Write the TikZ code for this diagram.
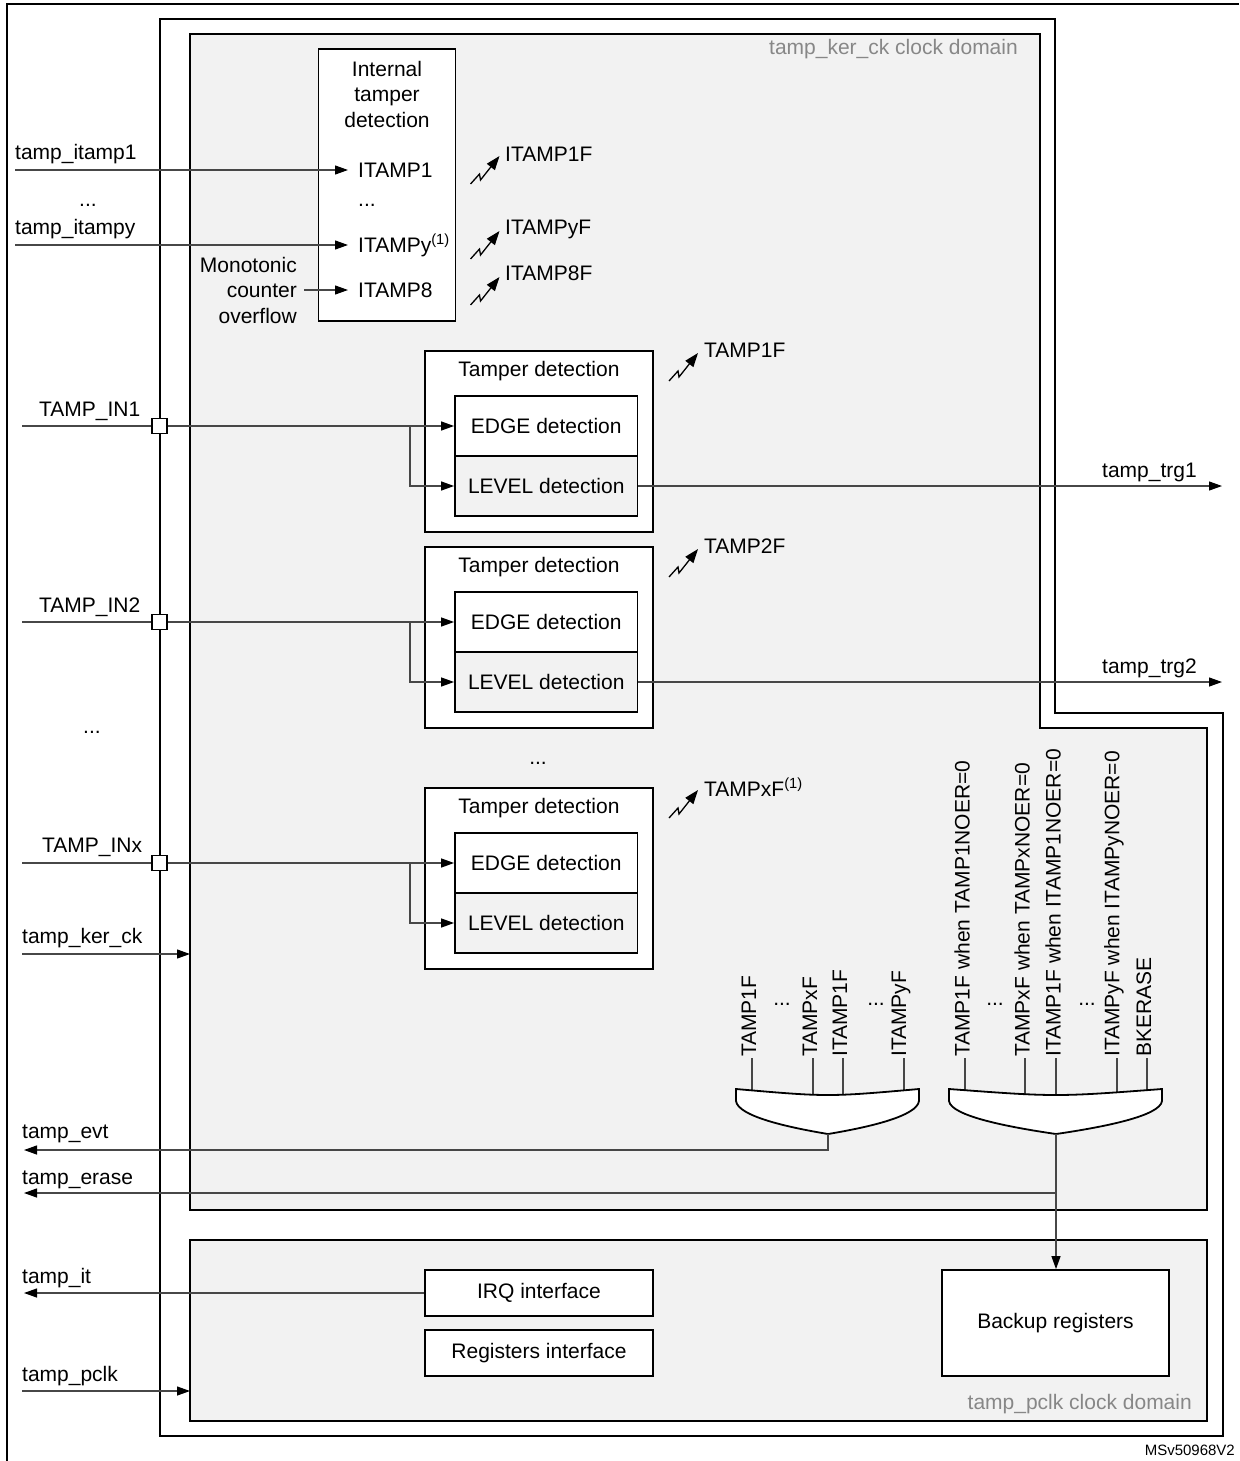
\documentclass[tikz,border=0pt]{standalone}
\usepackage{fontspec}
\setmainfont{Liberation Sans}
\usetikzlibrary{arrows.meta}
\definecolor{bggray}{HTML}{F2F2F2}
\definecolor{labgray}{HTML}{878787}
\newcommand\myfs{\fontsize{21pt}{25.5pt}\selectfont}
\begin{document}
\begin{tikzpicture}[x=1pt,y=-1pt,
  every node/.style={font=\myfs, inner sep=0pt},
  domframe/.style={draw=black, line width=2pt},
  blk/.style={draw=black, line width=1.8pt, fill=white, inner sep=0pt},
  sig/.style={draw=black!72, line width=1.2pt},
  arr/.style={sig, -{Triangle[length=13pt,width=9pt,color=black]}},
  pad/.style={draw=black, line width=1.5pt, fill=white, minimum size=15pt, inner sep=0pt},
  gate/.style={draw=black, line width=1.8pt, fill=white},
  graylbl/.style={text=labgray},
  bolt/.pic={\draw[line width=1.3pt, black, -{Triangle[length=14pt,width=10pt]}] (0,0) -- (9,-10) -- (10,-4) -- (29,-28);},
]
\useasboundingbox (0,0) rectangle (1239,1461);
% outer frame (cropped)
\draw[line width=2.5pt] (7,1461) -- (7,4) -- (1239,4);
% middle frame
\draw[domframe] (159.5,19) -- (1055,19) -- (1055,712.5) -- (1223,712.5) -- (1223,1436) -- (159.5,1436) -- cycle;
% tamp_ker_ck domain
\draw[domframe, fill=bggray] (190,34) -- (1040,34) -- (1040,728) -- (1207,728) -- (1207,1210) -- (190,1210) -- cycle;
% tamp_pclk domain
\draw[domframe, fill=bggray] (190,1240) rectangle (1207,1421);

\node[graylbl, anchor=east] (kerlbl) at (1018,49) {tamp\_ker\_ck clock domain};
\node[graylbl, anchor=east] (pclklbl) at (1192,1404) {tamp\_pclk clock domain};
\node[anchor=east, font=\fontsize{15pt}{18pt}\selectfont] (ref) at (1235,1450) {MSv50968V2};

% internal tamper detection
\node[blk, minimum width=137pt, minimum height=272pt] (itd) at (387,185) {};
\node[align=center] (itdt) at (387,94) {Internal\\tamper\\detection};
\node[anchor=west] (it1) at (358,170) {ITAMP1};
\node[anchor=base west] (itdots) at (358,206) {...};
\node[anchor=base west] (ity) at (358,252.5) {ITAMPy\textsuperscript{(1)}};
\node[anchor=west] (it8) at (358,290) {ITAMP8};
\coordinate (t1) at (348,170);
\coordinate (ty) at (348,245);
\coordinate (t8) at (348,290);

\node[anchor=west] (litamp1) at (15,154) {tamp\_itamp1};
\node[anchor=base] (ldots1) at (88,206) {...};
\node[anchor=west] (litampy) at (15,229) {tamp\_itampy};
\node[align=right, anchor=east] (mono) at (297,290) {Monotonic\\counter\\overflow};
\coordinate (c1) at (15,170);
\coordinate (c2) at (15,245);
\draw[arr] (c1) -- (t1);
\draw[arr] (c2) -- (ty);
\draw[arr] ([xshift=7pt]mono.east) -- (t8);

\pic at (470.5,184) {bolt};
\node[anchor=west] (fi1) at (505,154) {ITAMP1F};
\pic at (470.5,259) {bolt};
\node[anchor=west] (fiy) at (505,229) {ITAMPyF};
\pic at (470.5,305) {bolt};
\node[anchor=west] (fi8) at (505,273) {ITAMP8F};

% tamper detection blocks
\foreach \i/\dy/\fl in {1/0/TAMP1F, 2/196/TAMP2F, x/437/{TAMPxF\textsuperscript{(1)}}} {
  \node[blk, minimum width=228pt, minimum height=181pt] (td\i) at (539,441.5+\dy) {};
  \node (tt\i) at (539,371+\dy) {Tamper detection};
  \node[blk, minimum width=182.5pt, minimum height=60pt] (e\i) at (546.25,426+\dy) {EDGE detection};
  \node[blk, fill=bggray, minimum width=182.5pt, minimum height=60pt] (l\i) at (546.25,486+\dy) {LEVEL detection};
  \coordinate (cin\i) at (22,426+\dy);
  \coordinate (b\i) at (410,426+\dy);
  \node[pad] (p\i) at (159.5,426+\dy) {};
  \draw[sig] (cin\i) -- (p\i);
  \draw[arr] (p\i) -- (e\i.west);
  \draw[arr] (b\i) |- (l\i.west);
  \pic at (669,381+\dy) {bolt};
  \node[anchor=west] (f\i) at (704,350+\dy) {\fl};
}
\node[anchor=west] (lin1) at (39,411) {TAMP\_IN1};
\node[anchor=west] (lin2) at (39,607) {TAMP\_IN2};
\node[anchor=west] (linx) at (42,847) {TAMP\_INx};
\node[anchor=base] (ldots2) at (92,733) {...};
\node[anchor=base] (mdots) at (538,764) {...};

% trigger outputs
\coordinate (ctrg1) at (1222,486);
\coordinate (ctrg2) at (1222,682);
\draw[arr] (l1.east) -- (ctrg1);
\draw[arr] (l2.east) -- (ctrg2);
\node[anchor=west] (ltrg1) at (1102,472) {tamp\_trg1};
\node[anchor=west] (ltrg2) at (1102,668) {tamp\_trg2};

% kernel clock
\node[anchor=west] (lker) at (22,938) {tamp\_ker\_ck};
\coordinate (cker) at (22,954);
\coordinate (kin) at (190,954);
\draw[arr] (cker) -- (kin);

% gate 1 inputs
\foreach \x/\t [count=\k] in {752/TAMP1F, 813/TAMPxF, 843/ITAMP1F, 904/ITAMPyF} {
  \node[rotate=90, anchor=west] (ga\k) at (\x-3,1057) {\t};
  \draw[sig] (ga\k.west) ++(3,1) -- ++(0,40);
}
\node[anchor=base] (gad1) at (782,1005) {...};
\node[anchor=base] (gad2) at (876,1005) {...};
% gate 2 inputs
\foreach \x/\t [count=\k] in {965/TAMP1F when TAMP1NOER=0, 1025/TAMPxF when TAMPxNOER=0, 1056/ITAMP1F when ITAMP1NOER=0, 1117/ITAMPyF when ITAMPyNOER=0, 1147/BKERASE} {
  \node[rotate=90, anchor=west] (gb\k) at (\x-3,1057) {\t};
  \draw[sig] (gb\k.west) ++(3,1) -- ++(0,40);
}
\node[anchor=base] (gbd1) at (995,1005) {...};
\node[anchor=base] (gbd2) at (1087,1005) {...};

% gates
\draw[gate] (736,1089) .. controls (828,1097) .. (919,1089) -- (919,1101) .. controls (917,1116) and (870,1127) .. (828,1134) .. controls (786,1127) and (738,1116) .. (736,1101) -- cycle;
\draw[gate] (949,1089) .. controls (1056,1097) .. (1162,1089) -- (1162,1101) .. controls (1160,1116) and (1104,1127) .. (1056,1134) .. controls (1008,1127) and (951,1116) .. (949,1101) -- cycle;
\coordinate (g1out) at (828,1134);
\coordinate (g2out) at (1056,1134);

% pclk domain blocks
\node[blk, minimum width=228pt, minimum height=46pt] (irq) at (539,1293) {IRQ interface};
\node[blk, minimum width=228pt, minimum height=46pt] (regif) at (539,1353) {Registers interface};
\node[blk, minimum width=227pt, minimum height=106pt] (bk) at (1055.5,1323) {Backup registers};

% outputs
\coordinate (cevt) at (24,1150);
\coordinate (cerase) at (24,1193);
\coordinate (cit) at (24,1293);
\draw[arr] (g1out) |- (cevt);
\draw[arr] (g2out) |- (cerase);
\draw[arr] (g2out) -- (g2out |- bk.north);
\draw[arr] (irq.west) -- (cit);
\node[anchor=west] (levt) at (22,1134) {tamp\_evt};
\node[anchor=west] (lerase) at (22,1180) {tamp\_erase};
\node[anchor=west] (lit) at (22,1278) {tamp\_it};

% pclk
\node[anchor=west] (lpclk) at (22,1376) {tamp\_pclk};
\coordinate (cpclk) at (22,1391);
\coordinate (pin) at (190,1391);
\draw[arr] (cpclk) -- (pin);
\end{tikzpicture}
\end{document}
